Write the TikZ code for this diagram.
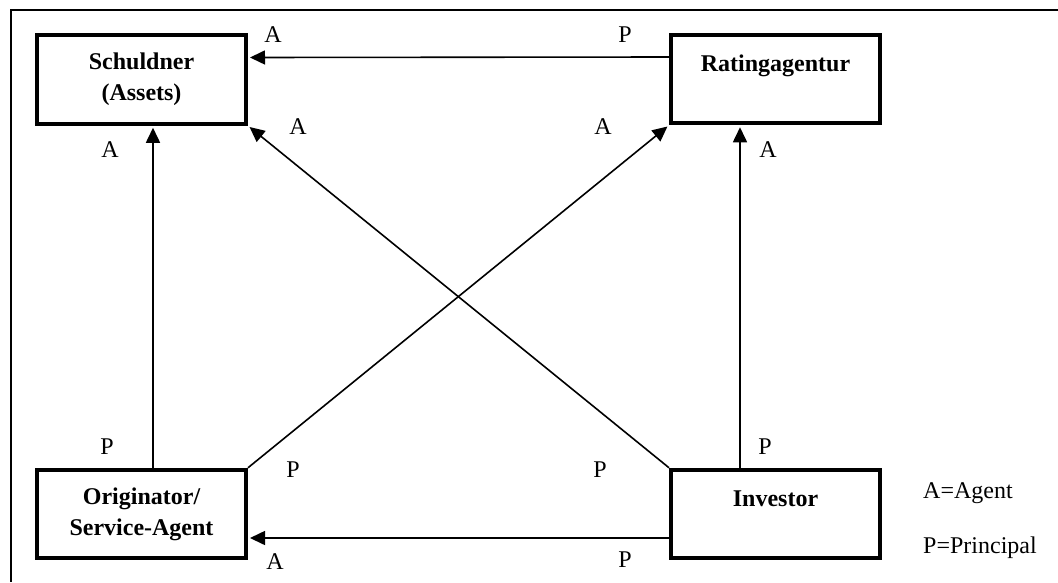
\documentclass[tikz,border=0pt]{standalone}
\usepackage{fontspec}
\setmainfont{Liberation Serif}
\usetikzlibrary{arrows.meta}
\begin{document}
\begin{tikzpicture}[x=1pt,y=-1pt,
  box/.style={draw,line width=4pt,minimum width=209pt,minimum height=88.5pt,inner sep=0pt,
    align=center,font=\fontsize{24}{31}\selectfont\bfseries},
  lbl/.style={font=\fontsize{24}{28}\selectfont,inner sep=0pt},
  arr/.style={line width=1.6pt,-{Triangle[length=15pt,width=14pt]},shorten >=2pt},
  frame/.style={line width=2.2pt}]
\useasboundingbox (0,0) rectangle (1058,582);
\draw[frame] (1058,10) -- (11,10) -- (11,582);
\node[box] (sch) at (141.5,79.5) {Schuldner\\(Assets)};
\node[box] (rat) at (775.5,79) {Ratingagentur\\\mbox{}};
\node[box] (ori) at (141.5,514) {Originator/\\Service-Agent};
\node[box] (inv) at (775.5,514) {Investor\\\mbox{}};
\draw[arr] ([yshift=22pt]rat.west) -- ([yshift=22pt]sch.east);
\draw[arr] ([yshift=-24pt]inv.west) -- ([yshift=-24pt]ori.west -| ori.east);
\draw[arr] ([xshift=11.5pt]ori.north) -- ([xshift=11.5pt]sch.south);
\draw[arr] ([xshift=-35.5pt]inv.north) -- ([xshift=-35.5pt]rat.south);
\draw[arr] (inv.north west) -- (sch.south east);
\draw[arr] (ori.north east) -- (rat.south west);
\node[lbl] (l1) at (273,35) {A};
\node[lbl] (l2) at (625,35) {P};
\node[lbl] (l3) at (298,127) {A};
\node[lbl] (l4) at (603,127) {A};
\node[lbl] (l5) at (110,150) {A};
\node[lbl] (l6) at (768,150) {A};
\node[lbl] (l7) at (107,447) {P};
\node[lbl] (l8) at (765,447) {P};
\node[lbl] (l9) at (293,470) {P};
\node[lbl] (l10) at (600,470) {P};
\node[lbl] (l11) at (275,562) {A};
\node[lbl] (l12) at (625,560) {P};
\node[lbl,anchor=west] (lg1) at (923,493) {A=Agent};
\node[lbl,anchor=west] (lg2) at (923,548) {P=Principal};
\end{tikzpicture}
\end{document}
